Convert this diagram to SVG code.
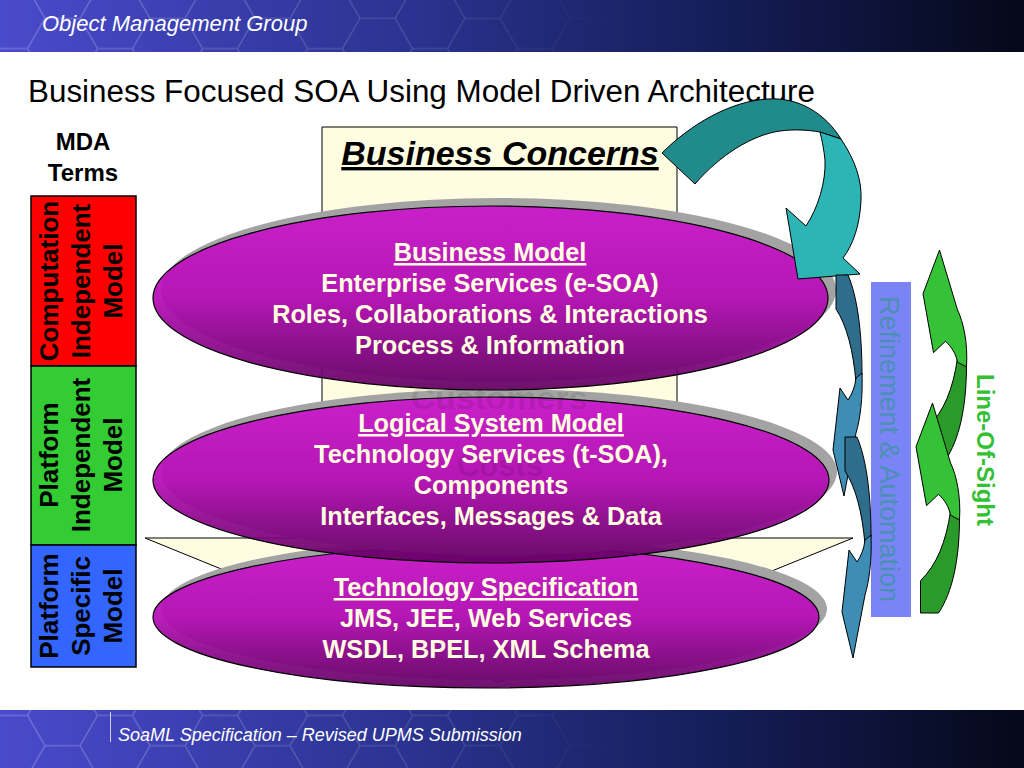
<svg xmlns="http://www.w3.org/2000/svg" width="1024" height="768" viewBox="0 0 1024 768">
<defs>
<style>
.t{font-family:"Liberation Sans",Arial,Helvetica,sans-serif}
.eb{font-family:"Liberation Sans",Arial,sans-serif;font-weight:bold;font-size:25.3px;fill:#ffffe0;text-anchor:middle}
.lbl{font-family:"Liberation Sans",Arial,sans-serif;font-weight:bold;font-size:26px;fill:#000;text-anchor:middle}
.sh{fill:#a3a3a3}
.ell{fill:url(#egrad);fill-opacity:0.93;stroke:#000;stroke-width:1.2}
.ol{stroke:#000;stroke-width:1;stroke-linejoin:round}
.ghost{font-family:"Liberation Sans",Arial,sans-serif;font-weight:bold;font-size:31px;fill:#000;fill-opacity:0.11;text-anchor:middle}
</style>
<linearGradient id="band" x1="0" y1="0" x2="1" y2="0">
<stop offset="0" stop-color="#4a4acc"/>
<stop offset="0.4" stop-color="#2a3390"/>
<stop offset="0.72" stop-color="#141c55"/>
<stop offset="1" stop-color="#050818"/>
</linearGradient>
<linearGradient id="egrad" x1="0" y1="0" x2="0" y2="1">
<stop offset="0" stop-color="#cc16cc"/>
<stop offset="0.5" stop-color="#b60cb6"/>
<stop offset="1" stop-color="#620062"/>
</linearGradient>
<linearGradient id="fade" x1="0" y1="0" x2="1" y2="0">
<stop offset="0" stop-color="#fff" stop-opacity="0.22"/>
<stop offset="0.7" stop-color="#fff" stop-opacity="0.12"/>
<stop offset="1" stop-color="#fff" stop-opacity="0"/>
</linearGradient>
<pattern id="hex" patternUnits="userSpaceOnUse" width="105" height="60.62" x="-25" y="-12">
<path d="M0,30.31 L17.5,0 L52.5,0 L70,30.31 L52.5,60.62 L17.5,60.62 Z M70,30.31 L105,30.31" fill="none" stroke="#ffffff" stroke-width="1.5"/>
</pattern>
<mask id="hexmask" maskUnits="userSpaceOnUse" x="0" y="0" width="1024" height="768">
<rect x="0" y="0" width="620" height="768" fill="url(#fade)"/>
</mask>
<g id="bluearrow">
<path class="ol" fill="#2f6d8d" d="M845,437 L857,437 C866,458 871,492 871,537 L865,544 C862,512 856,488 845,471 Z"/>
<path class="ol" fill="#3d8db5" d="M865,540 L871,535 C872,560 869,582 865,595 L853,658 L842,612 L849,550 L857,562 C861,556 864,549 865,540 Z"/>
</g>
<g id="greenarrow">
<path fill="#2a9a2a" stroke="#000" stroke-width="1" vector-effect="non-scaling-stroke" d="M845,437 L857,437 C866,458 871,492 871,537 L865,544 C862,512 856,488 845,471 Z"/>
<path fill="#36c236" stroke="#000" stroke-width="1" vector-effect="non-scaling-stroke" d="M865,540 L871,535 C872,560 869,582 865,595 L853,658 L842,612 L849,550 L857,562 C861,556 864,549 865,540 Z"/>
</g>
</defs>

<g id="header">
<rect x="0" y="0" width="1024" height="52" fill="url(#band)"/>
<rect x="0" y="0" width="620" height="52" fill="url(#hex)" mask="url(#hexmask)"/>
<text class="t" x="42" y="31" font-size="22" font-style="italic" fill="#ffffff">Object Management Group</text>
</g>

<g id="footer">
<rect x="0" y="710" width="1024" height="58" fill="url(#band)"/>
<rect x="0" y="710" width="620" height="58" fill="url(#hex)" mask="url(#hexmask)"/>
<line x1="110.5" y1="712" x2="110.5" y2="742" stroke="#ffffff" stroke-opacity="0.75" stroke-width="1"/>
<text class="t" x="118" y="741" font-size="18" font-style="italic" fill="#ffffff">SoaML Specification – Revised UPMS Submission</text>
</g>

<text id="title" class="t" x="28" y="102" font-size="31" fill="#000" textLength="787" lengthAdjust="spacingAndGlyphs">Business Focused SOA Using Model Driven Architecture</text>

<g id="mda-terms">
<text class="t" x="83" y="150" font-size="24" font-weight="bold" text-anchor="middle">MDA</text>
<text class="t" x="83" y="181" font-size="24" font-weight="bold" text-anchor="middle">Terms</text>
</g>

<g id="cim">
<rect x="31" y="196" width="105" height="170" fill="#ff0000" stroke="#000" stroke-width="1.5"/>
<text class="lbl" transform="translate(58,281) rotate(-90)">Computation</text>
<text class="lbl" transform="translate(90,281) rotate(-90)">Independent</text>
<text class="lbl" transform="translate(122,281) rotate(-90)">Model</text>
</g>
<g id="pim">
<rect x="31" y="366" width="105" height="179" fill="#33cc33" stroke="#000" stroke-width="1.5"/>
<text class="lbl" transform="translate(58,455) rotate(-90)">Platform</text>
<text class="lbl" transform="translate(90,455) rotate(-90)">Independent</text>
<text class="lbl" transform="translate(122,455) rotate(-90)">Model</text>
</g>
<g id="psm">
<rect x="31" y="545" width="105" height="122" fill="#3366ff" stroke="#000" stroke-width="1.5"/>
<text class="lbl" transform="translate(58,606) rotate(-90)">Platform</text>
<text class="lbl" transform="translate(90,606) rotate(-90)">Specific</text>
<text class="lbl" transform="translate(122,606) rotate(-90)">Model</text>
</g>

<g id="business-concerns">
<path d="M322,127 H677 V538 H853 L499,682 L145,538 H322 Z" fill="#fffde1" stroke="#000" stroke-width="1"/>
<text class="t" x="500" y="165" font-size="34" font-weight="bold" font-style="italic" text-anchor="middle" text-decoration="underline" fill="#000">Business Concerns</text>
</g>

<g id="technology-specification">
<ellipse class="sh" cx="494" cy="609" rx="333" ry="71"/>
<ellipse class="ell" cx="486" cy="617" rx="333" ry="71"/>
<text class="eb" x="486" y="596" text-decoration="underline">Technology Specification</text>
<text class="eb" x="486" y="627">JMS, JEE, Web Services</text>
<text class="eb" x="486" y="658">WSDL, BPEL, XML Schema</text>
</g>

<g id="logical-system-model">
<ellipse class="sh" cx="499" cy="472" rx="338" ry="83"/>
<ellipse class="ell" cx="491" cy="480" rx="338" ry="83"/>
<text class="ghost" x="499" y="409" textLength="177" lengthAdjust="spacingAndGlyphs">Customers</text>
<text class="ghost" x="500" y="476">Costs</text>
<text class="eb" x="491" y="432" text-decoration="underline">Logical System Model</text>
<text class="eb" x="491" y="463">Technology Services (t-SOA),</text>
<text class="eb" x="491" y="494">Components</text>
<text class="eb" x="491" y="525">Interfaces, Messages &amp; Data</text>
</g>

<g id="business-model">
<ellipse class="sh" cx="498.5" cy="290" rx="337.5" ry="92"/>
<ellipse class="ell" cx="490.5" cy="298" rx="337.5" ry="92"/>
<text class="eb" x="490" y="261" text-decoration="underline">Business Model</text>
<text class="eb" x="490" y="292">Enterprise Services (e-SOA)</text>
<text class="eb" x="490" y="323">Roles, Collaborations &amp; Interactions</text>
<text class="eb" x="490" y="354">Process &amp; Information</text>
</g>

<g id="refinement-automation">
<rect x="871" y="282" width="40" height="335" fill="#7b84f5"/>
<text class="t" transform="translate(880,449) rotate(90)" font-size="27" fill="#4a90b4" text-anchor="middle">Refinement &amp; Automation</text>
</g>

<g id="line-of-sight">
<text class="t" transform="translate(977,450) rotate(90)" font-size="24" font-weight="bold" fill="#33c033" text-anchor="middle">Line-Of-Sight</text>
</g>

<g id="connectors">
<g id="feedback-arrow">
<path class="ol" fill="#218a8a" d="M662,153 C690,125 730,101 768,99 C798,97 825,113 841,139 L820,132 C808,130 795,129 780,131 C752,135 720,155 695,184 Z"/>
<path class="ol" fill="#2db4b4" d="M820,132 L841,139 C855,160 862,180 861,200 C860,225 853,245 843,258 L860,274 L798,279 L786,208 L806,226 C818,208 826,182 825,160 C824,150 822,140 820,132 Z"/>
</g>
<use href="#bluearrow" transform="translate(-9,-162)"/>
<use href="#bluearrow"/>
<use href="#greenarrow" transform="translate(929,460) scale(1.5,-0.95) translate(-846,-437)"/>
<use href="#greenarrow" transform="translate(922,613) scale(1.5,-0.95) translate(-846,-437)"/>
</g>
</svg>
